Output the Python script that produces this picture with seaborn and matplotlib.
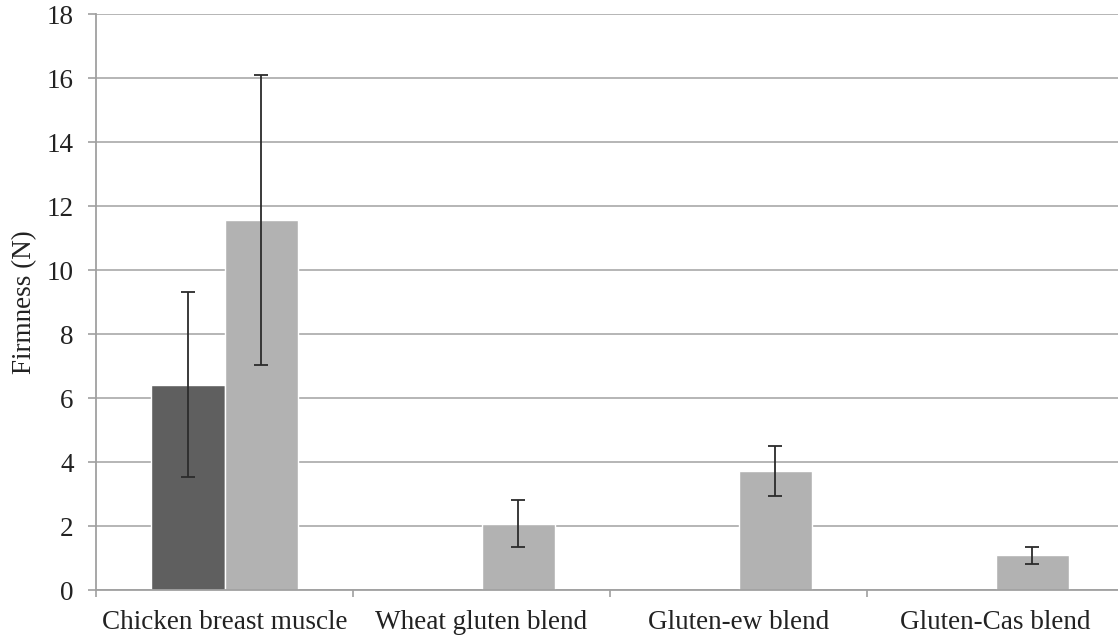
import numpy as np
import pandas as pd
import matplotlib
matplotlib.use("Agg")
import matplotlib.pyplot as plt
import seaborn as sns
from matplotlib.ticker import FixedLocator

# Firmness measurements (mean and standard deviation, N)
samples = ["Chicken breast muscle", "Wheat gluten blend", "Gluten-ew blend", "Gluten-Cas blend"]
series_names = ["Raw", "Cooked"]
raw_mean = [6.42, np.nan, np.nan, np.nan]
raw_sd = [2.88, np.nan, np.nan, np.nan]
cooked_mean = [11.57, 2.08, 3.72, 1.09]
cooked_sd = [4.53, 0.73, 0.79, 0.26]
yticks = [0, 2, 4, 6, 8, 10, 12, 14, 16, 18]

bar_colors = ["#5f5f5f", "#b2b2b2"]

df = pd.DataFrame({
    "sample": samples * 2,
    "group": [series_names[0]] * len(samples) + [series_names[1]] * len(samples),
    "firmness": raw_mean + cooked_mean,
    "sd": raw_sd + cooked_sd,
})

sns.set_style("white")
plt.rcParams["font.family"] = ["Liberation Serif", "DejaVu Serif"]

fig = plt.figure(figsize=(11.18, 6.4), dpi=100)
ax = fig.add_axes([0.0859, 0.078, 0.9195, 0.9])

sns.barplot(
    data=df, x="sample", y="firmness", hue="group",
    order=samples, hue_order=series_names,
    palette=bar_colors, width=0.57, errorbar=None,
    saturation=1, legend=False, ax=ax, zorder=2,
)

# error bars placed at the centre of each drawn bar
sd_lookup = {series_names[0]: raw_sd, series_names[1]: cooked_sd}
for name, container in zip(series_names, ax.containers):
    for bar in container:
        h = bar.get_height()
        if not np.isfinite(h):
            continue
        xc = bar.get_x() + bar.get_width() / 2
        idx = int(round(xc))
        ax.errorbar(xc, h, yerr=sd_lookup[name][idx], fmt="none",
                    ecolor="#2b2b2b", elinewidth=1.3, capsize=4.7,
                    capthick=1.3, zorder=3)

ax.set_ylim(0, 18)
ax.set_xlim(-0.5, len(samples) - 0.5)
ax.yaxis.set_major_locator(FixedLocator(yticks))
ax.grid(axis="y", color="#b6b6b6", linewidth=1.4, zorder=0)
ax.grid(axis="x", visible=False)
ax.set_axisbelow(True)

for side in ("top", "right"):
    ax.spines[side].set_visible(False)
for side in ("left", "bottom"):
    ax.spines[side].set_color("#a0a0a0")
    ax.spines[side].set_linewidth(1.3)

ax.set_xlabel("")
ax.set_ylabel("Firmness (N)", fontsize=19.5, color="#222222", labelpad=7)

ax.tick_params(axis="y", which="major", length=6, width=1.2, color="#a0a0a0",
               labelsize=19.5, labelcolor="#222222", pad=10, direction="out", left=True)
ax.tick_params(axis="x", which="major", length=0, labelsize=19.5,
               labelcolor="#222222", pad=14)
ax.xaxis.set_minor_locator(FixedLocator(np.arange(-0.5, len(samples), 1.0)))
ax.tick_params(axis="x", which="minor", length=5, width=1.2, color="#a0a0a0",
               direction="out", bottom=True)

fig.savefig("out.png", dpi=100)
